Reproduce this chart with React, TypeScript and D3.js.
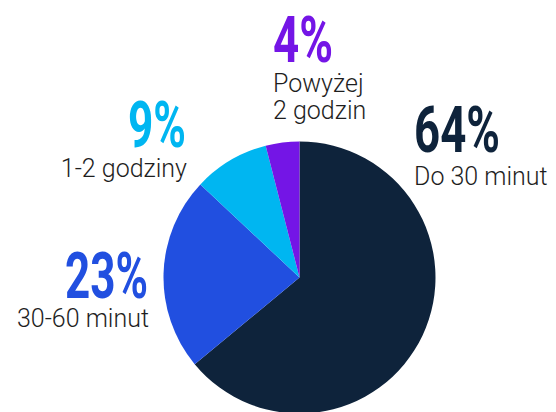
import React from 'react';
import * as d3 from 'd3';

const categories = ['Do 30 minut', '30-60 minut', '1-2 godziny', 'Powyżej 2 godzin'];
const values = [64, 23, 9, 4];
const colors = ['#0e233b', '#214fe0', '#00b6f1', '#7415e6'];

const width = 556;
const height = 412;
const cx = 299.5;
const cy = 277.5;
const radius = 136;

// label placement per slice: big number baseline, sub-label baselines
const labelLayout = [
  { x: 414, y: 152, anchor: 'start', lines: ['Do 30 minut'], sub: [185], width: 86 },
  { x: 148, y: 298, anchor: 'end', lines: ['30-60 minut'], sub: [327], width: 83 },
  { x: 186, y: 147, anchor: 'end', lines: ['1-2 godziny'], sub: [177], width: 58 },
  { x: 273, y: 62, anchor: 'start', lines: ['Powyżej', '2 godzin'], sub: [92, 119], width: 60 },
];

export default function App() {
  const pie = d3.pie<number>().sort(null).value(d => d);
  const arcs = pie(values);
  const arc = d3.arc<d3.PieArcDatum<number>>().innerRadius(0).outerRadius(radius);

  return (
    <svg
      width={width}
      height={height}
      style={{ position: 'absolute', left: 0, top: 0, background: '#fff' }}
    >
      <g transform={`translate(${cx},${cy})`}>
        {arcs.map((a, i) => (
          <path key={categories[i]} d={arc(a) || ''} fill={colors[i]} />
        ))}
      </g>
      {labelLayout.map((l, i) => (
        <g key={categories[i]}>
          <text
            x={l.x}
            y={l.y}
            textAnchor={l.anchor}
            fill={colors[i]}
            fontFamily="Roboto"
            fontWeight={700}
            fontSize={65}
            textLength={l.width}
            lengthAdjust="spacingAndGlyphs"
          >
            {values[i]}%
          </text>
          {l.lines.map((line, j) => (
            <text
              key={line}
              x={l.anchor === 'end' ? l.x + 1 : l.x}
              y={l.sub[j]}
              textAnchor={l.anchor}
              fill="#1e1e1e"
              fontFamily="Roboto"
              fontWeight={300}
              fontSize={25}
            >
              {line}
            </text>
          ))}
        </g>
      ))}
    </svg>
  );
}
